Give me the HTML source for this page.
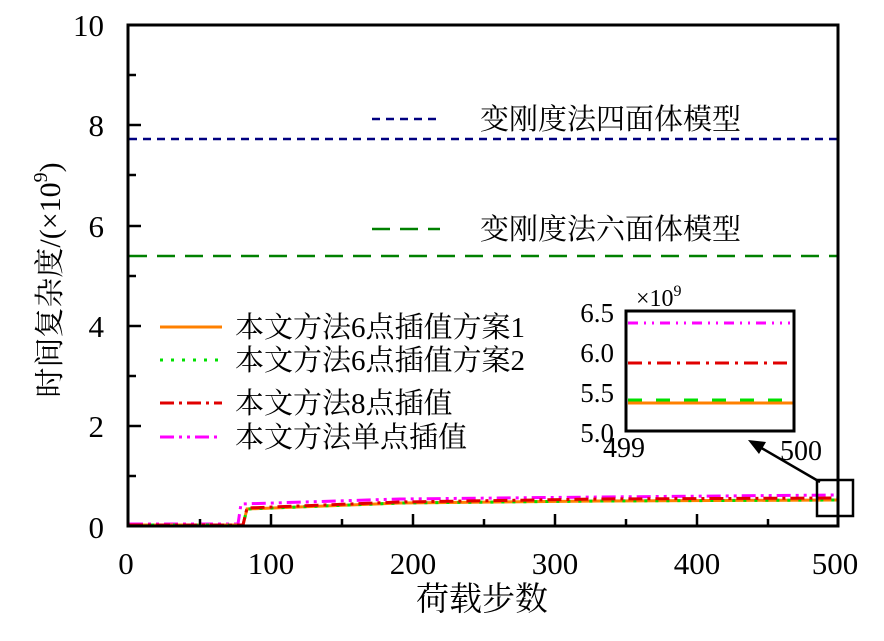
<!DOCTYPE html>
<html><head><meta charset="utf-8"><style>
body{margin:0;background:#fff}
text{font-family:"Liberation Serif","Noto Serif CJK SC",serif;fill:#000}
.cj{font-family:"Liberation Serif","Noto Serif CJK SC","Noto Sans CJK SC",serif}
</style></head><body>
<svg width="884" height="636" viewBox="0 0 884 636" xmlns="http://www.w3.org/2000/svg">
<line x1="129" y1="139" x2="837" y2="139" stroke="#000080" stroke-width="2.5" stroke-dasharray="8,6"/>
<line x1="129" y1="256" x2="837" y2="256" stroke="#008000" stroke-width="2.5" stroke-dasharray="18,10"/>
<polyline points="129,524 238,524 241,504 400,499 600,497 837,495" fill="none" stroke="#ff00ff" stroke-width="3" stroke-dasharray="14,5,3,5,3,5"/>
<polyline points="129,525 243,525 247,509 400,503 600,501 837,500" fill="none" stroke="#ff8000" stroke-width="3"/>
<polyline points="129,525 243,525 247,509 400,503 600,501 837,500" fill="none" stroke="#00e000" stroke-width="3" stroke-dasharray="3,8"/>
<polyline points="129,525 243,525 247,508 400,502 600,499 837,498" fill="none" stroke="#e00000" stroke-width="3" stroke-dasharray="14,5,3,5"/>
<rect x="128" y="25" width="710" height="501" fill="none" stroke="#000" stroke-width="3"/>
<g stroke="#000" stroke-width="2.5">
<line x1="129" y1="75" x2="136" y2="75"/><line x1="129" y1="125" x2="141" y2="125"/>
<line x1="129" y1="175" x2="136" y2="175"/><line x1="129" y1="226" x2="141" y2="226"/>
<line x1="129" y1="276" x2="136" y2="276"/><line x1="129" y1="326" x2="141" y2="326"/>
<line x1="129" y1="376" x2="136" y2="376"/><line x1="129" y1="426" x2="141" y2="426"/>
<line x1="129" y1="476" x2="136" y2="476"/>
<line x1="200" y1="526" x2="200" y2="519"/><line x1="271" y1="526" x2="271" y2="514"/>
<line x1="342" y1="526" x2="342" y2="519"/><line x1="413" y1="526" x2="413" y2="514"/>
<line x1="484" y1="526" x2="484" y2="519"/><line x1="555" y1="526" x2="555" y2="514"/>
<line x1="626" y1="526" x2="626" y2="519"/><line x1="697" y1="526" x2="697" y2="514"/>
<line x1="768" y1="526" x2="768" y2="519"/>
</g>
<g font-size="31" text-anchor="end">
<text x="104" y="36">10</text><text x="104" y="136">8</text><text x="104" y="237">6</text>
<text x="104" y="337">4</text><text x="104" y="437">2</text><text x="104" y="538">0</text>
</g>
<g font-size="31" text-anchor="middle">
<text x="126" y="574">0</text><text x="271" y="574">100</text><text x="413" y="574">200</text>
<text x="555" y="574">300</text><text x="697" y="574">400</text><text x="835" y="574">500</text>
</g>
<text x="482" y="610" font-size="33" text-anchor="middle" class="cj">荷载步数</text>
<text transform="translate(60,280) rotate(-90)" font-size="30" text-anchor="middle" class="cj">时间复杂度/(×10<tspan font-size="20" dy="-13">9</tspan><tspan dy="13">)</tspan></text>
<line x1="372" y1="119" x2="440" y2="119" stroke="#000080" stroke-width="2.5" stroke-dasharray="8,6"/>
<text x="480" y="129" font-size="29" class="cj">变刚度法四面体模型</text>
<line x1="372" y1="229" x2="440" y2="229" stroke="#008000" stroke-width="2.5" stroke-dasharray="18,10"/>
<text x="480" y="239" font-size="29" class="cj">变刚度法六面体模型</text>
<line x1="160" y1="327" x2="222" y2="327" stroke="#ff8000" stroke-width="3"/>
<text x="235" y="337" font-size="29" class="cj">本文方法6点插值方案1</text>
<line x1="160" y1="360" x2="222" y2="360" stroke="#00e000" stroke-width="3" stroke-dasharray="3,8"/>
<text x="235" y="370" font-size="29" class="cj">本文方法6点插值方案2</text>
<line x1="160" y1="403" x2="222" y2="403" stroke="#e00000" stroke-width="3" stroke-dasharray="14,5,3,5"/>
<text x="235" y="413" font-size="29" class="cj">本文方法8点插值</text>
<line x1="160" y1="437" x2="222" y2="437" stroke="#ff00ff" stroke-width="3" stroke-dasharray="14,5,3,5,3,5"/>
<text x="235" y="447" font-size="29" class="cj">本文方法单点插值</text>
<line x1="628" y1="323" x2="790" y2="323" stroke="#ff00ff" stroke-width="3" stroke-dasharray="10,6,2,6,2,6"/>
<line x1="628" y1="363" x2="790" y2="363" stroke="#e00000" stroke-width="3" stroke-dasharray="14,6,3,6"/>
<line x1="628" y1="403" x2="794" y2="403" stroke="#ff8000" stroke-width="3"/>
<line x1="628" y1="400" x2="790" y2="400" stroke="#00e000" stroke-width="3" stroke-dasharray="14,14"/>
<rect x="626" y="311" width="168" height="120" fill="none" stroke="#000" stroke-width="3"/>
<g font-size="27" text-anchor="end">
<text x="614" y="322">6.5</text><text x="614" y="362">6.0</text>
<text x="614" y="402">5.5</text><text x="614" y="442">5.0</text>
</g>
<text x="603" y="457" font-size="28">499</text>
<text x="780" y="460" font-size="28">500</text>
<text x="636" y="306" font-size="24">×10<tspan font-size="16" dy="-10">9</tspan></text>
<rect x="817" y="480" width="36" height="36" fill="none" stroke="#000" stroke-width="2.5"/>
<line x1="820" y1="482" x2="758" y2="446" stroke="#000" stroke-width="2.5"/>
<polygon points="748,440 766,442 759,454" fill="#000"/>
</svg>
</body></html>
